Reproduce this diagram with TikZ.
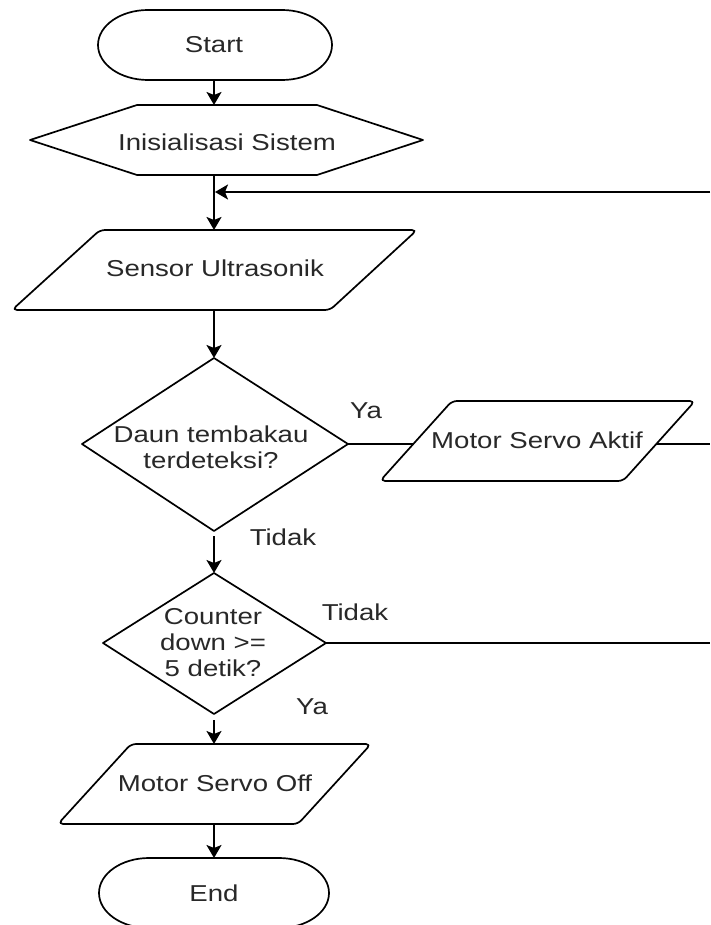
\documentclass[tikz,border=0pt]{standalone}
\usepackage{fontspec}
\setmainfont[FakeStretch=1.2]{Liberation Sans}
\usetikzlibrary{arrows.meta}
\definecolor{txtc}{RGB}{40,40,40}
\begin{document}
\begin{tikzpicture}[x=1pt,y=-1pt,
  shapeline/.style={draw=black,line width=1.7pt,fill=white,line join=round},
  conn/.style={draw=black,line width=1.7pt},
  arr/.style={conn,-{Stealth[length=13pt,width=15pt,inset=3pt]}},
  txt/.style={font=\fontsize{23}{26}\selectfont,text=txtc,align=center,inner sep=0pt}]
\useasboundingbox (0,0) rectangle (710,925);
% ---- shapes ----
% Start
\draw[shapeline] (148,10) -- (282,10) arc[start angle=-90,end angle=90,x radius=50,y radius=35]
  -- (148,80) arc[start angle=90,end angle=270,x radius=50,y radius=35] -- cycle;
\node[txt] (start) at (214,45) {Start};
% Init hexagon
\draw[shapeline] (30,140) -- (137,105) -- (317,105) -- (423,140) -- (317,175) -- (137,175) -- cycle;
\node[txt] (init) at (227,142) {Inisialisasi Sistem};
% Sensor parallelogram
\draw[shapeline,rounded corners=5pt] (100,230) -- (417,230) -- (330,310) -- (12,310) -- cycle;
\node[txt] (sensor) at (215,268) {Sensor Ultrasonik};
% Decision 1
\draw[shapeline] (214,358) -- (348,444) -- (214,531) -- (82,444) -- cycle;
\node[txt] (d1) at (211,447) {Daun tembakau\\terdeteksi?};
% Motor Servo Aktif
\draw[shapeline,rounded corners=5pt] (452,401) -- (695,401) -- (623,481) -- (380,481) -- cycle;
\node[txt] (msa) at (537,440) {Motor Servo Aktif};
% Decision 2
\draw[shapeline] (214,573) -- (326,643) -- (214,714) -- (103,643) -- cycle;
\node[txt] (d2) at (213,643) {Counter\\down >=\\5 detik?};
% Motor Servo Off
\draw[shapeline,rounded corners=5pt] (131,744) -- (371,744) -- (298,824) -- (58,824) -- cycle;
\node[txt] (mso) at (215,783) {Motor Servo Off};
% End
\draw[shapeline] (149,858) -- (279,858) arc[start angle=-90,end angle=90,x radius=50,y radius=35]
  -- (149,928) arc[start angle=90,end angle=270,x radius=50,y radius=35] -- cycle;
\node[txt] (end) at (214,893) {End};
% ---- anchor coordinates ----
\coordinate (startB) at (214,80);
\coordinate (initT) at (214,105);
\coordinate (initB) at (214,175);
\coordinate (loopJ) at (215,192);
\coordinate (loopR) at (710,192);
\coordinate (sensorT) at (214,230);
\coordinate (sensorB) at (214,310);
\coordinate (d1T) at (214,358);
\coordinate (d1R) at (348,444);
\coordinate (d1B) at (214,536);
\coordinate (msaL) at (413,444);
\coordinate (msaR) at (656,444);
\coordinate (msaOut) at (710,444);
\coordinate (d2T) at (214,573);
\coordinate (d2R) at (326,643);
\coordinate (d2Out) at (710,643);
\coordinate (d2B) at (214,720);
\coordinate (msoT) at (214,744);
\coordinate (msoB) at (214,824);
\coordinate (endT) at (214,858);
% ---- connectors ----
\draw[arr] (startB) -- (initT);
\draw[arr] (initB) -- (sensorT);
\draw[arr] (loopR) -- (loopJ);
\draw[arr] (sensorB) -- (d1T);
\draw[conn] (d1R) -- (msaL);
\draw[conn] (msaR) -- (msaOut);
\draw[arr] (d1B) -- (d2T);
\draw[conn] (d2R) -- (d2Out);
\draw[arr] (d2B) -- (msoT);
\draw[arr] (msoB) -- (endT);
% ---- labels ----
\node[txt] (ya1) at (366,411) {Ya};
\node[txt] (tidak1) at (283,537) {Tidak};
\node[txt] (tidak2) at (355,612) {Tidak};
\node[txt] (ya2) at (312,707) {Ya};
\end{tikzpicture}
\end{document}
